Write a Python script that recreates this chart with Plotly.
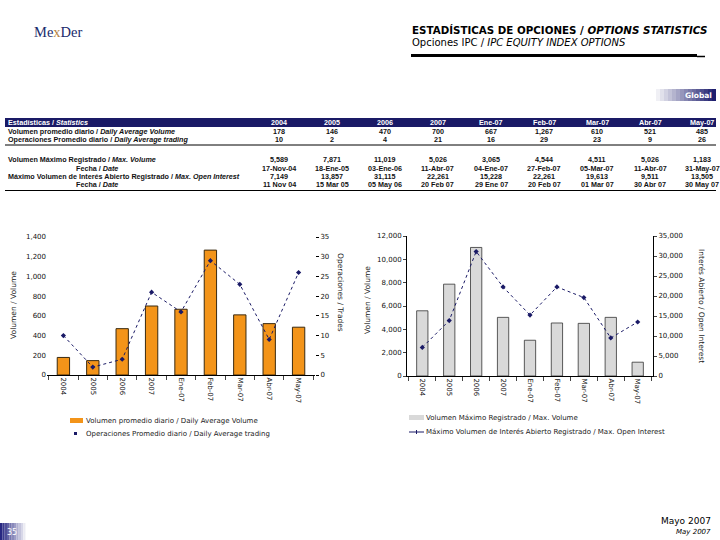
import plotly.graph_objects as go

W, H = 720, 540
def px(x): return x / W
def py(y): return 1 - y / H

categories = ["2004", "2005", "2006", "2007", "Ene-07", "Feb-07", "Mar-07", "Abr-07", "May-07"]
avg_volume = [178, 146, 470, 700, 667, 1267, 610, 521, 485]
avg_trades = [10, 2, 4, 21, 16, 29, 23, 9, 26]
max_volume = [5589, 7871, 11019, 5026, 3065, 4544, 4511, 5026, 1183]
max_volume_date = ["17-Nov-04", "18-Ene-05", "03-Ene-06", "11-Abr-07", "04-Ene-07", "27-Feb-07", "05-Mar-07", "11-Abr-07", "31-May-07"]
max_oi = [7149, 13857, 31115, 22261, 15228, 22261, 19613, 9511, 13505]
max_oi_date = ["11 Nov 04", "15 Mar 05", "05 May 06", "20 Feb 07", "29 Ene 07", "20 Feb 07", "01 Mar 07", "30 Abr 07", "30 May 07"]

NAVY = "#1a1a66"
ORANGE = "#f39419"
GRAY = "#d9d9d9"
FONT = "DejaVu Sans"
TFONT = "Liberation Sans"

fig = go.Figure()

# Left chart
fig.add_trace(go.Bar(x=categories, y=avg_volume, xaxis="x", yaxis="y", width=0.42,
                     marker=dict(color=ORANGE, line=dict(color="#3a2a10", width=1)), showlegend=False))
fig.add_trace(go.Scatter(x=categories, y=avg_trades, xaxis="x", yaxis="y2", mode="lines+markers",
                         line=dict(color=NAVY, width=1, dash="dot"),
                         marker=dict(symbol="diamond", size=4, color=NAVY), showlegend=False))
# Right chart
fig.add_trace(go.Bar(x=categories, y=max_volume, xaxis="x3", yaxis="y3", width=0.42,
                     marker=dict(color=GRAY, line=dict(color="#333", width=0.8)), showlegend=False))
fig.add_trace(go.Scatter(x=categories, y=max_oi, xaxis="x3", yaxis="y4", mode="lines+markers",
                         line=dict(color=NAVY, width=1, dash="dot"),
                         marker=dict(symbol="diamond", size=4, color=NAVY), showlegend=False))

tickfont = dict(family=FONT, size=7, color="#111")
xcommon = dict(type="category", tickangle=90, tickson="boundaries", ticks="outside", ticklen=4,
               showline=True, linecolor="#000", linewidth=1, tickfont=tickfont, showgrid=False,
               automargin=False)

annotations = []
shapes = []

def text(x, y, t, xa="center", font=None, angle=0):
    annotations.append(dict(x=px(x), y=py(y), xref="paper", yref="paper", text=t, textangle=angle,
                            xanchor=xa, yanchor="middle", showarrow=False, font=font))

fig.update_layout(
    width=W, height=H, margin=dict(l=0, r=0, t=0, b=0, autoexpand=False),
    paper_bgcolor="white", plot_bgcolor="rgba(0,0,0,0)",
    xaxis=dict(domain=[px(47), px(315)], anchor="y", **xcommon),
    yaxis=dict(domain=[py(375), py(237)], range=[0, 1400], dtick=200, tickformat=",",
               showgrid=False, showline=False, ticks="", tickfont=tickfont, zeroline=False,
               automargin=False),
    yaxis2=dict(overlaying="y", side="right", anchor="x", range=[0, 35], dtick=5,
                showgrid=False, showline=False, ticks="outside", ticklen=3, tickcolor="#000",
                tickfont=tickfont, zeroline=False, automargin=False),
    xaxis3=dict(domain=[px(407), px(653)], anchor="y3", **xcommon),
    yaxis3=dict(domain=[py(376), py(236)], anchor="x3", range=[0, 12000], dtick=2000, tickformat=",",
                showgrid=False, showline=True, linecolor="#000", ticks="outside", ticklen=3,
                tickfont=tickfont, zeroline=False, automargin=False),
    yaxis4=dict(overlaying="y3", side="right", anchor="x3", range=[0, 35000], dtick=5000, tickformat=",",
                showgrid=False, showline=True, linecolor="#000", ticks="outside", ticklen=3,
                tickfont=tickfont, zeroline=False, automargin=False),
)

# Axis titles
af = dict(family=FONT, size=7.5, color="#222")
text(13, 305, "Volumen / Volume", font=af, angle=-90)
text(341, 292, "Operaciones / Trades", font=af, angle=90)
text(367, 300, "Volumen / Volume", font=af, angle=-90)
text(702, 306, "Interés Abierto / Open Interest", font=af, angle=90)

# Legends
lf = dict(family=FONT, size=7, color="#222")
shapes.append(dict(type="rect", xref="paper", yref="paper", x0=px(70), x1=px(83), y0=py(423), y1=py(418),
                   fillcolor=ORANGE, line=dict(width=0)))
text(84, 420.5, "Volumen promedio diario / Daily Average Volume", xa="left", font=lf)
shapes.append(dict(type="rect", xref="paper", yref="paper", x0=px(74), x1=px(77), y0=py(435), y1=py(432),
                   fillcolor=NAVY, line=dict(width=0)))
text(84, 433.5, "Operaciones Promedio diario / Daily Average trading", xa="left", font=lf)
shapes.append(dict(type="rect", xref="paper", yref="paper", x0=px(409), x1=px(424), y0=py(420), y1=py(415),
                   fillcolor=GRAY, line=dict(width=0)))
text(424, 417.5, "Volumen Máximo Registrado / Max. Volume", xa="left", font=lf)
shapes.append(dict(type="line", xref="paper", yref="paper", x0=px(409), x1=px(424), y0=py(432), y1=py(432),
                   line=dict(color=NAVY, width=1)))
shapes.append(dict(type="line", xref="paper", yref="paper", x0=px(416.5), x1=px(416.5), y0=py(430), y1=py(434),
                   line=dict(color=NAVY, width=1)))
text(424, 432, "Máximo Volumen de Interés Abierto Registrado / Max. Open Interest", xa="left", font=lf)

# Header
text(410, 30, "<b>ESTADÍSTICAS DE OPCIONES / <i>OPTIONS STATISTICS</i></b>", xa="left",
     font=dict(family=FONT, size=10.3, color="#000"))
text(410, 42.5, "Opciones IPC / <i>IPC EQUITY INDEX OPTIONS</i>", xa="left",
     font=dict(family=FONT, size=10, color="#000"))
shapes.append(dict(type="line", xref="paper", yref="paper", x0=px(411), x1=px(697), y0=py(55.5), y1=py(55.5),
                   line=dict(color="#000", width=3)))
shapes.append(dict(type="line", xref="paper", yref="paper", x0=px(697), x1=px(705), y0=py(56.5), y1=py(56.5),
                   line=dict(color="#000", width=1.5)))
# Logo
text(58, 32, "Me<span style='color:#b8843f'>x</span>Der",
     font=dict(family="Liberation Serif", size=14.5, color="#1a2a6c"))

# Gradient boxes
def gradient(x0, x1, y0, y1, c0, c1, n=16):
    for i in range(n):
        t = i / (n - 1)
        col = tuple(int(a + (b - a) * t) for a, b in zip(c0, c1))
        shapes.append(dict(type="rect", xref="paper", yref="paper",
                           x0=px(x0 + (x1 - x0) * i / n), x1=px(x0 + (x1 - x0) * (i + 1) / n),
                           y0=py(y1), y1=py(y0), fillcolor="rgb(%d,%d,%d)" % col, line=dict(width=0)))
gradient(652, 716, 89, 101, (255, 255, 255), (30, 30, 110))
text(714, 95, "<b>Global</b>", xa="right", font=dict(family=FONT, size=7.5, color="white"))
gradient(0, 28, 523, 540, (40, 40, 130), (255, 255, 255), n=12)
text(5, 532, "35", xa="left", font=dict(family=FONT, size=8, color="white"))
text(713, 521, "Mayo 2007", xa="right", font=dict(family=FONT, size=9, color="#000"))
text(713, 532, "<i>May 2007</i>", xa="right", font=dict(family=FONT, size=7, color="#000"))

# Table
col_x = [279, 332, 385, 438, 491, 544, 597, 650, 702]
shapes.append(dict(type="rect", xref="paper", yref="paper", x0=px(5), x1=px(716), y0=py(127), y1=py(118),
                   fillcolor=NAVY, line=dict(width=0)))
shapes.append(dict(type="line", xref="paper", yref="paper", x0=px(5), x1=px(716), y0=py(145), y1=py(145),
                   line=dict(color="#000", width=1)))
shapes.append(dict(type="line", xref="paper", yref="paper", x0=px(5), x1=px(716), y0=py(190.5), y1=py(190.5),
                   line=dict(color="#000", width=1)))
TS = 7.2
text(6, 122.5, "<b>Estadísticas / <i>Statistics</i></b>", xa="left",
     font=dict(family=TFONT, size=TS, color="white"))
row_y = [131.5, 139.5, 159.5, 168, 176.5, 185]
row_labels = [
    (6, "Volumen promedio diario / <i>Daily Average Volume</i>"),
    (6, "Operaciones Promedio diario / <i>Daily Average trading</i>"),
    (6, "Volumen Máximo Registrado / <i>Max. Volume</i>"),
    (74, "Fecha / <i>Date</i>"),
    (6, "Máximo Volumen de Interés Abierto Registrado / <i>Max. Open Interest</i>"),
    (74, "Fecha / <i>Date</i>"),
]
for (x, t), y in zip(row_labels, row_y):
    text(x, y, "<b>" + t + "</b>", xa="left", font=dict(family=TFONT, size=TS, color="#111"))
rows = [
    (122.5, categories, "white"),
    (row_y[0], [f"{v:,}" for v in avg_volume], "#111"),
    (row_y[1], [f"{v:,}" for v in avg_trades], "#111"),
    (row_y[2], [f"{v:,}" for v in max_volume], "#111"),
    (row_y[3], max_volume_date, "#111"),
    (row_y[4], [f"{v:,}" for v in max_oi], "#111"),
    (row_y[5], max_oi_date, "#111"),
]
for y, vals, col in rows:
    for x, v in zip(col_x, vals):
        text(x, y, "<b>" + v + "</b>", font=dict(family=TFONT, size=TS, color=col))

fig.update_layout(annotations=annotations, shapes=shapes)
fig.write_html("out.html", config={"displayModeBar": False},
               post_script="document.body.style.margin='0';document.body.style.overflow='hidden';")
